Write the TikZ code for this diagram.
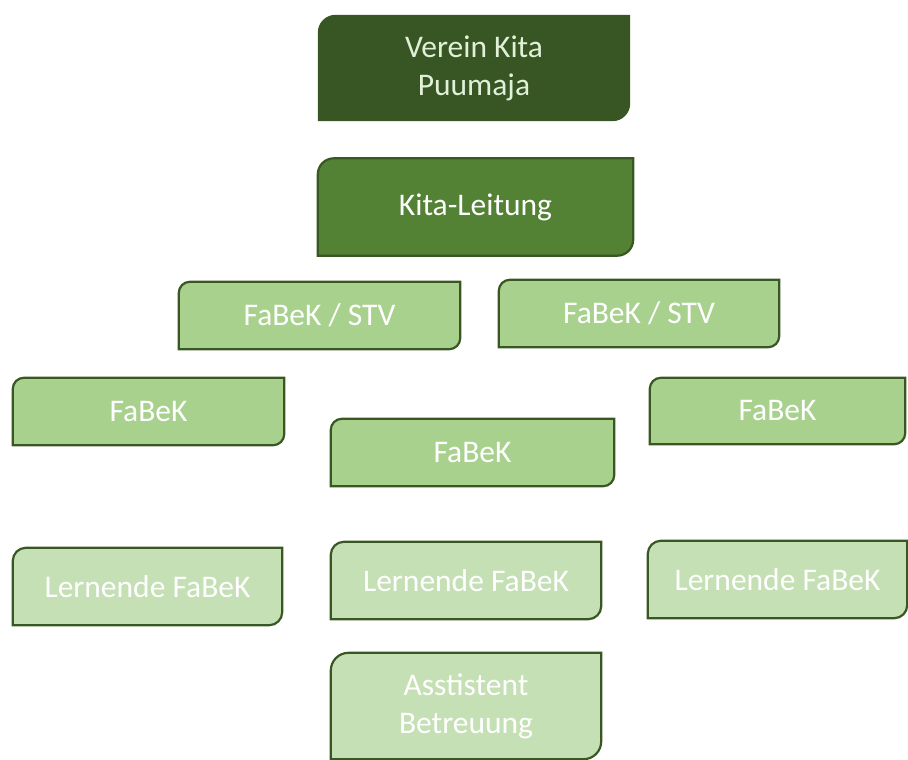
\documentclass[tikz,border=0pt]{standalone}
\usepackage{fontspec}
\setmainfont{Carlito}
\usetikzlibrary{backgrounds}

\definecolor{vereingreen}{RGB}{55,86,35}
\definecolor{leitgreen}{RGB}{84,130,53}
\definecolor{midgreen}{RGB}{169,209,142}
\definecolor{lightgreen}{RGB}{197,224,180}
\definecolor{edgegreen}{RGB}{56,87,35}
\definecolor{paletext}{RGB}{226,240,217}

\begin{document}
\begin{tikzpicture}[x=1pt, y=-1pt,
    orgbox/.style={rectangle, inner sep=0pt, text=white, align=center,
        font=\fontsize{31.5}{38}\selectfont},
    edge/.style={draw=edgegreen, line width=2.2pt},
    noedge/.style={draw=none}]

    \useasboundingbox (0,0) rectangle (908,760);

    % top levels
    \node (verein) [orgbox, text=paletext, minimum width=312pt, minimum height=106pt] at (474,68) {Verein Kita\\Puumaja};
    \node (leitung) [orgbox, minimum width=315pt, minimum height=97pt] at (475.5,207) {Kita-Leitung};

    % deputies
    \node (stvl) [orgbox, minimum width=281pt, minimum height=67pt] at (319.5,315.5) {FaBeK / STV};
    \node (stvr) [orgbox, minimum width=280pt, minimum height=67pt] at (639,313.5) {FaBeK / STV};

    % groups
    \node (fabekl) [orgbox, minimum width=271pt, minimum height=67pt] at (148.5,411.5) {FaBeK};
    \node (fabekm) [orgbox, minimum width=283pt, minimum height=67pt] at (472.5,452.5) {FaBeK};
    \node (fabekr) [orgbox, minimum width=255pt, minimum height=66pt] at (777.5,411) {FaBeK};

    % apprentices
    \node (lernl) [orgbox, minimum width=269pt, minimum height=77pt] at (147.5,586.5) {Lernende FaBeK};
    \node (lernm) [orgbox, minimum width=270pt, minimum height=77pt] at (466,580.5) {Lernende FaBeK};
    \node (lernr) [orgbox, minimum width=259pt, minimum height=77pt] at (777.5,579.5) {Lernende FaBeK};
    \node (assist) [orgbox, minimum width=270pt, minimum height=106pt] at (466,706) {Asstistent\\Betreuung};

    % box shapes, round corners top left and bottom right
    \begin{scope}[on background layer]
        \foreach \n/\c/\r/\e in {verein/vereingreen/17.7/noedge, leitung/leitgreen/16/edge,
            stvl/midgreen/11/edge, stvr/midgreen/11/edge, fabekl/midgreen/11/edge,
            fabekm/midgreen/11/edge, fabekr/midgreen/11/edge, lernl/lightgreen/13/edge,
            lernm/lightgreen/13/edge, lernr/lightgreen/13/edge, assist/lightgreen/17.7/edge}
            \path[fill=\c, \e] (\n.south west) -- ([yshift=-\r pt]\n.north west)
                arc[start angle=180, end angle=90, radius=\r pt] -- (\n.north east)
                -- ([yshift=\r pt]\n.south east)
                arc[start angle=0, end angle=-90, radius=\r pt] -- cycle;
    \end{scope}

\end{tikzpicture}
\end{document}
